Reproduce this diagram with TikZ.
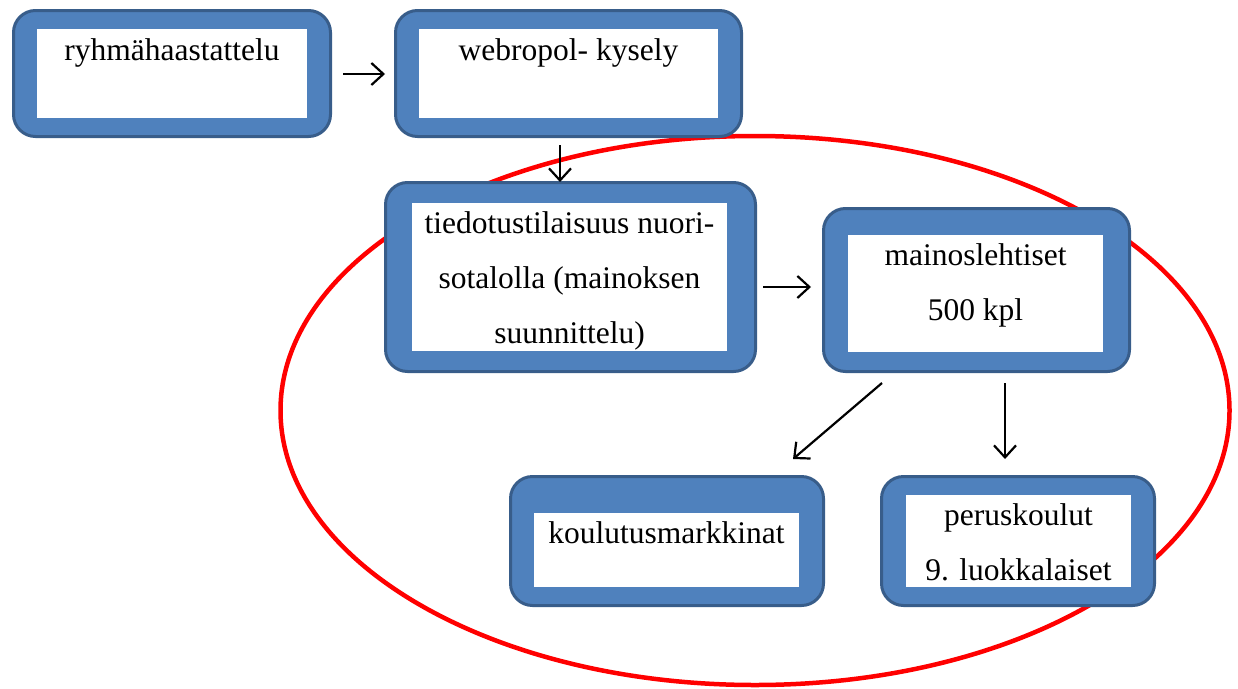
\documentclass[tikz,border=0pt]{standalone}
\usepackage{fontspec}
\setmainfont{Liberation Serif}
\usetikzlibrary{arrows.meta}
\definecolor{boxfill}{HTML}{4F81BD}
\definecolor{boxline}{HTML}{385D8A}
\tikzset{
  outerbox/.style={draw=boxline, fill=boxfill, line width=3pt, rounded corners=22pt, inner sep=0pt},
  innerbox/.style={fill=white, inner sep=0pt},
  lbl/.style={inner sep=0pt, align=center, font=\fontsize{31.5}{55}\selectfont, anchor=base},
  arr/.style={draw=black, line width=2.2pt, -{Straight Barb[length=12pt,width=22pt,line width=2.2pt]}}
}
\begin{document}
\begin{tikzpicture}[x=1pt, y=-1pt]
\useasboundingbox (0,0) rectangle (1238,688);
% ellipse behind
\draw[red, line width=4.5pt] (755,410.5) ellipse [x radius=474.5, y radius=274.5];
% boxes
\node[outerbox, minimum width=317pt, minimum height=126pt] (b1) at (172,73.5) {};
\node[innerbox, minimum width=270pt, minimum height=89pt] (i1) at (172,73.5) {};
\node[lbl] (t1) at (172,60) {ryhmähaastattelu};

\node[outerbox, minimum width=346pt, minimum height=126pt] (b2) at (568.5,73.5) {};
\node[innerbox, minimum width=299pt, minimum height=89pt] (i2) at (568.5,73.5) {};
\node[lbl] (t2) at (568.5,60) {webropol- kysely};

\node[outerbox, minimum width=370pt, minimum height=189pt] (b3) at (570.5,277) {};
\node[innerbox, minimum width=315pt, minimum height=148pt] (i3) at (569.5,277) {};
\node[lbl] (t3) at (569.5,343) {tiedotustilaisuus nuori-\\sotalolla (mainoksen\\suunnittelu)};

\node[outerbox, minimum width=306pt, minimum height=163pt] (b4) at (976.5,290) {};
\node[innerbox, minimum width=255pt, minimum height=117pt] (i4) at (975.5,293.5) {};
\node[lbl] (t4) at (975.5,320) {mainoslehtiset\\500 kpl};

\node[outerbox, minimum width=313pt, minimum height=129pt] (b5) at (667,541) {};
\node[innerbox, minimum width=265pt, minimum height=74pt] (i5) at (666.5,550) {};
\node[lbl] (t5) at (666.5,543) {koulutusmarkkinat};

\node[outerbox, minimum width=273pt, minimum height=129pt] (b6) at (1018,541) {};
\node[innerbox, minimum width=225pt, minimum height=92pt] (i6) at (1018.5,541) {};
\node[lbl] (t6) at (1018.5,580) {peruskoulut\\9. luokkalaiset};

% arrows
\draw[arr] ([xshift=11pt,yshift=-0.5pt]b1.east) -- ([xshift=-9pt,yshift=-0.5pt]b2.west);
\draw[arr] ([xshift=-8.5pt,yshift=-7pt]b2.south) -- ([xshift=-10.5pt,yshift=-1pt]b3.north);
\draw[arr] ([xshift=6pt,yshift=-10pt]b3.east) -- ([xshift=-11pt,yshift=3pt]b4.west);
\draw[arr] ([xshift=-94.5pt,yshift=-10pt]b4.south) -- ([xshift=126pt,yshift=16pt]b5.north);
\draw[arr] ([xshift=28.5pt,yshift=-10pt]b4.south) -- ([xshift=-13pt,yshift=16pt]b6.north);
\end{tikzpicture}
\end{document}
